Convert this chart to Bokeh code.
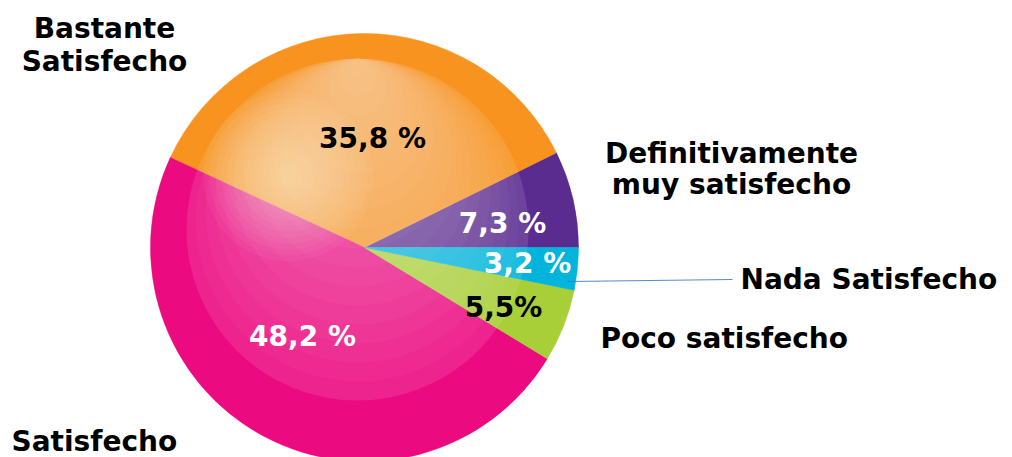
import numpy as np
from bokeh.plotting import figure
from bokeh.models import Range1d, ColumnDataSource
from bokeh.embed import file_html
from bokeh.resources import INLINE
from bokeh.core.properties import value

# ---- data (counter-clockwise from 3 o'clock) ----
categories = ["Definitivamente muy satisfecho", "Bastante Satisfecho", "Satisfecho",
              "Poco satisfecho", "Nada Satisfecho"]
values = [7.3, 35.8, 48.2, 5.5, 3.2]
pct_labels = ["7,3 %", "35,8 %", "48,2 %", "5,5%", "3,2 %"]

# ---- styles ----
colors = ["#5B2C90", "#F7931E", "#EC0A80", "#A9CF38", "#00B4DC"]
pct_colors = ["white", "black", "white", "black", "white"]

W, H = 1012, 457
FONT = value("DejaVu Sans")
TXT_DY = -9  # baseline correction for rendered text


def Y(sy):  # screen y -> data y
    return 457 - sy


p = figure(width=W, height=H, x_range=Range1d(0, W), y_range=Range1d(Y(H), Y(0)),
           x_axis_type=None, y_axis_type=None, toolbar_location=None,
           output_backend="svg", min_border=0)
p.outline_line_color = None
p.background_fill_color = "white"

# pie geometry (layout)
cx, cy, R = 364, Y(247), 214
vals = np.array(values, dtype=float)
ends = np.cumsum(vals) / vals.sum() * 2 * np.pi
starts = np.concatenate([[0.0], ends[:-1]])
src = ColumnDataSource(dict(start=starts, end=ends, color=colors, cat=categories))
p.wedge(x=cx, y=cy, radius=R, start_angle="start", end_angle="end",
        fill_color="color", line_color="color", line_width=0.5, source=src)

# glossy inner disk: base + vertical gradient (nested circles tangent at top)
icx, icy, IR = 357, Y(229), 171
p.circle(x=[icx], y=[icy], radius=IR, fill_color="white", fill_alpha=0.11, line_color=None)
N = 18
for k in range(1, N):
    d = IR * k / N
    p.circle(x=[icx], y=[icy + d], radius=IR - d, fill_color="white",
             fill_alpha=0.03, line_color=None)

# highlight spot
hx, hy = 288, Y(176)
for r in np.linspace(85, 8, 14):
    p.circle(x=[hx], y=[hy], radius=r, fill_color="#FFF8F0", fill_alpha=0.045, line_color=None)

# leader line for "Nada Satisfecho"
p.line(x=[567, 732], y=[Y(281), Y(279)], line_color="#3F7FBF", line_width=1.2, line_alpha=0.9)

# percent labels
pct_pos = {"7,3 %": (502, 232), "35,8 %": (372, 147), "48,2 %": (302, 345),
           "5,5%": (503, 316), "3,2 %": (527, 272)}
p.text(x=[pct_pos[t][0] for t in pct_labels],
       y=[Y(pct_pos[t][1] + TXT_DY) for t in pct_labels],
       text=pct_labels, text_color=pct_colors, text_font=FONT, text_font_style="bold",
       text_font_size="28px", text_align="center", text_baseline="alphabetic")

# category labels
lab_lines = [("Bastante", 104, 37, "center"), ("Satisfecho", 104, 70, "center"),
             ("Definitivamente", 731, 162, "center"), ("muy satisfecho", 731, 193, "center"),
             ("Nada Satisfecho", 740, 288, "left"), ("Poco satisfecho", 600, 347, "left"),
             ("Satisfecho", 11, 450, "left")]
for t, x, y, a in lab_lines:
    p.text(x=[x], y=[Y(y + TXT_DY)], text=[t], text_color="black", text_font=FONT,
           text_font_style="bold", text_font_size="28px", text_align=a,
           text_baseline="alphabetic")

open("out.html", "w").write(file_html(p, INLINE))
